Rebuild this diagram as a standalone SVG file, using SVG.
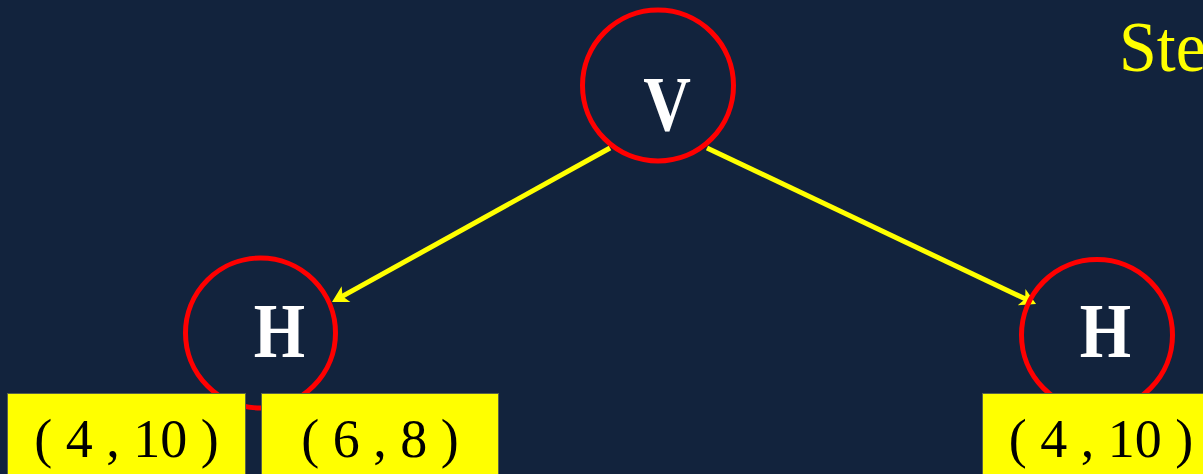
<svg xmlns="http://www.w3.org/2000/svg" width="1203" height="474" viewBox="0 0 1203 474">
  <style>
    .ring { fill: none; stroke: #FF0000; stroke-width: 5; }
    .lbl { font-family: "Liberation Serif", "Times New Roman", serif; font-weight: bold; font-size: 66px; fill: #FFFFFF; text-anchor: middle; }
    .box { fill: #FFFF00; stroke: #5A6446; stroke-width: 1; }
    .coord { font-family: "Liberation Serif", "Times New Roman", serif; font-size: 54px; fill: #000000; text-anchor: middle; }
    .edge { stroke: #FFFF00; stroke-width: 5; fill: none; marker-end: url(#arrow); }
    .title { font-family: "Liberation Serif", "Times New Roman", serif; font-size: 68px; fill: #FFFF00; }
  </style>
  <defs>
    <marker id="arrow" markerUnits="userSpaceOnUse" viewBox="-20 -20 40 40" markerWidth="40" markerHeight="40" refX="0" refY="0" orient="auto">
      <path d="M8,0 L-8,-9 L-4,0 L-8,9 Z" fill="#FFFF00"/>
    </marker>
  </defs>
  <rect x="0" y="0" width="1203" height="474" fill="#12233D"/>

  <text class="title" transform="translate(1119,71) scale(1,1.06)" x="0" y="0">Ste</text>

  <g id="connectors">
    <line class="edge" x1="610" y1="148" x2="339" y2="298.1"/>
    <line class="edge" x1="707" y1="148" x2="1028.8" y2="300.6"/>
  </g>

  <g id="node-V">
    <circle class="ring" cx="658" cy="85.5" r="75.5"/>
    <text class="lbl" transform="translate(667,130) scale(1,1.17)" x="0" y="0">V</text>
  </g>

  <g id="node-H-left">
    <circle class="ring" cx="260.5" cy="333" r="75"/>
    <text class="lbl" transform="translate(279.5,357) scale(1,1.17)" x="0" y="0">H</text>
  </g>

  <g id="node-H-right">
    <circle class="ring" cx="1097" cy="335" r="75.5"/>
    <text class="lbl" transform="translate(1105.5,357) scale(1,1.17)" x="0" y="0">H</text>
  </g>

  <g id="box-left-1">
    <rect class="box" x="7.5" y="393.5" width="238" height="90"/>
    <text class="coord" x="126.5" y="457">( 4 , 10 )</text>
  </g>

  <g id="box-left-2">
    <rect class="box" x="261.5" y="393.5" width="237" height="90"/>
    <text class="coord" x="380" y="457">( 6 , 8 )</text>
  </g>

  <g id="box-right">
    <rect class="box" x="982.5" y="393.5" width="238" height="90"/>
    <text class="coord" x="1101" y="457">( 4 , 10 )</text>
  </g>
</svg>
